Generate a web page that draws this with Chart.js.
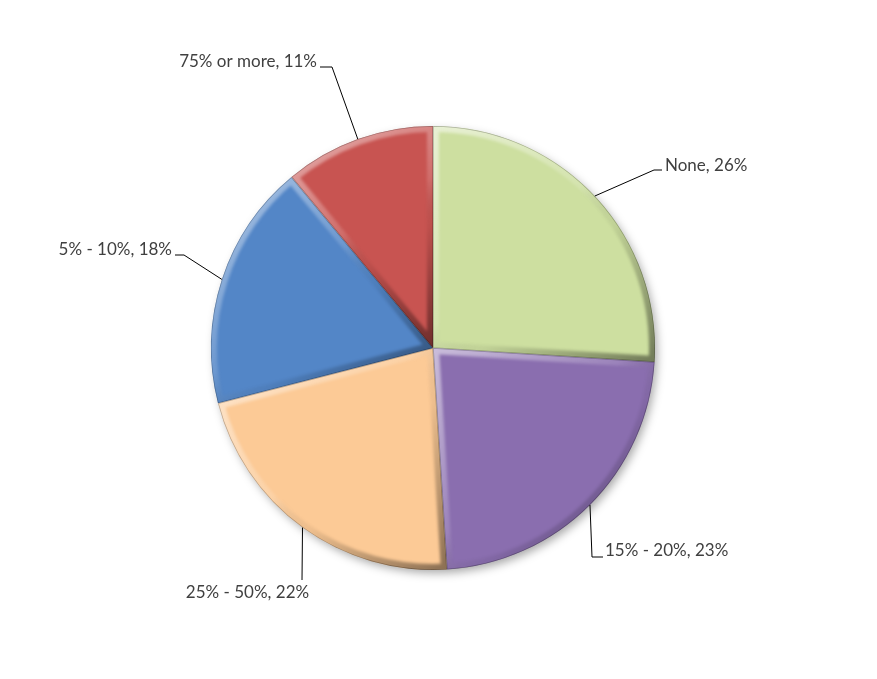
<!DOCTYPE html>
<html>
<head>
<meta charset="utf-8">
<script src="https://cdn.jsdelivr.net/npm/chart.js@4"></script>
<style>
  html, body { margin: 0; padding: 0; background: #ffffff; }
  #wrap { width: 877px; height: 679px; }
</style>
</head>
<body>
<div id="wrap"><canvas id="c" width="877" height="679"></canvas></div>
<script>
// ---- data ----
const categories = ["None", "15% - 20%", "25% - 50%", "5% - 10%", "75% or more"];
const percentages = [26, 23, 22, 18, 11];
const sliceColors = ["#CDDFA0", "#8A6EAF", "#FCCA96", "#5386C7", "#C85451"];

// ---- label placement (offsets from pie centre, px) ----
const labelLayout = [
  { elbow: [221, -178], end: [229, -178], text: [232, -177.5], align: "left" },
  { elbow: [159, 209],  end: [170, 209],  text: [172, 208],    align: "left" },
  { elbow: [-131, 232], end: [-131, 232], text: [-185.5, 250], align: "center" },
  { elbow: [-249, -93], end: [-258, -93], text: [-261, -93],   align: "right" },
  { elbow: [-101, -281],end: [-113, -281],text: [-116, -281],  align: "right" }
];

const shadowPlugin = {
  id: "pieShadow",
  beforeDatasetsDraw(chart) {
    const arcs = chart.getDatasetMeta(0).data;
    if (!arcs.length) return;
    const a = arcs[0];
    const ctx = chart.ctx;
    ctx.save();
    ctx.shadowColor = "rgba(0,0,0,0.35)";
    ctx.shadowBlur = 10;
    ctx.shadowOffsetX = 3;
    ctx.shadowOffsetY = 4;
    ctx.fillStyle = "#ffffff";
    ctx.beginPath();
    ctx.arc(a.x, a.y, a.outerRadius - 1, 0, Math.PI * 2);
    ctx.fill();
    ctx.restore();
  }
};

const bevelPlugin = {
  id: "bevel",
  afterDatasetsDraw(chart) {
    const ctx = chart.ctx;
    chart.getDatasetMeta(0).data.forEach((arc) => {
      const { x, y, startAngle, endAngle, outerRadius } = arc.getProps(["x","y","startAngle","endAngle","outerRadius"], true);
      // bounding box
      let xs = [x], ys = [y];
      for (let i = 0; i <= 24; i++) {
        const t = startAngle + (endAngle - startAngle) * i / 24;
        xs.push(x + outerRadius * Math.cos(t));
        ys.push(y + outerRadius * Math.sin(t));
      }
      const x0 = Math.min(...xs), x1 = Math.max(...xs), y0 = Math.min(...ys), y1 = Math.max(...ys);
      const path = () => {
        ctx.beginPath();
        ctx.moveTo(x, y);
        ctx.arc(x, y, outerRadius, startAngle, endAngle);
        ctx.closePath();
      };
      ctx.save();
      path();
      ctx.clip();
      const g = ctx.createLinearGradient(x0, y0, x1, y1);
      g.addColorStop(0, "rgba(255,255,255,0.55)");
      g.addColorStop(0.45, "rgba(255,255,255,0.15)");
      g.addColorStop(0.6, "rgba(0,0,0,0.05)");
      g.addColorStop(1, "rgba(0,0,0,0.45)");
      ctx.strokeStyle = g;
      ctx.lineJoin = "round";
      ctx.filter = "blur(1.5px)";
      ctx.lineWidth = 12;
      path();
      ctx.stroke();
      ctx.filter = "none";
      ctx.lineWidth = 1.5;
      ctx.strokeStyle = "rgba(0,0,0,0.25)";
      path();
      ctx.stroke();
      ctx.restore();
    });
  }
};

const labelPlugin = {
  id: "leaderLabels",
  afterDraw(chart) {
    const ctx = chart.ctx;
    const meta = chart.getDatasetMeta(0);
    ctx.save();
    ctx.font = '17px Lato, "Liberation Sans", sans-serif';
    ctx.fillStyle = "#404040";
    ctx.strokeStyle = "#000000";
    ctx.lineWidth = 1;
    ctx.textBaseline = "alphabetic";
    meta.data.forEach((arc, i) => {
      const { x, y, startAngle, endAngle, outerRadius } = arc.getProps(["x","y","startAngle","endAngle","outerRadius"], true);
      const mid = (startAngle + endAngle) / 2;
      const sx = x + outerRadius * Math.cos(mid);
      const sy = y + outerRadius * Math.sin(mid);
      const L = labelLayout[i];
      ctx.beginPath();
      ctx.moveTo(sx, sy);
      ctx.lineTo(x + L.elbow[0], y + L.elbow[1]);
      ctx.lineTo(x + L.end[0], y + L.end[1]);
      ctx.stroke();
      ctx.textAlign = L.align;
      ctx.fillText(categories[i] + ", " + percentages[i] + "%", x + L.text[0], y + L.text[1]);
    });
    ctx.restore();
  }
};

new Chart(document.getElementById("c"), {
  type: "pie",
  data: {
    labels: categories,
    datasets: [{
      data: percentages,
      backgroundColor: sliceColors,
      borderWidth: 0,
      hoverOffset: 0
    }]
  },
  options: {
    responsive: false,
    animation: false,
    layout: { padding: { left: 211, right: 222, top: 126, bottom: 109 } },
    plugins: {
      legend: { display: false },
      tooltip: { enabled: false }
    },
    events: []
  },
  plugins: [shadowPlugin, bevelPlugin, labelPlugin]
});
</script>
</body>
</html>
